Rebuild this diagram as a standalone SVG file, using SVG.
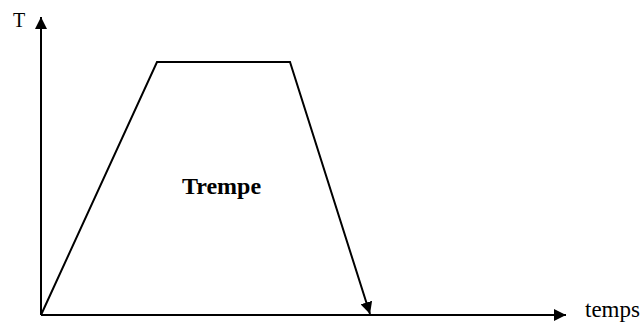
<svg xmlns="http://www.w3.org/2000/svg" width="642" height="324" viewBox="0 0 642 324">
<style>
.ln{stroke:#000;stroke-width:2;fill:none}
.t{font-family:"Liberation Serif","Times New Roman",serif;fill:#000}
</style>
<defs>
<marker id="ah" viewBox="0 0 12 12" refX="12" refY="6" markerWidth="12" markerHeight="12" markerUnits="userSpaceOnUse" orient="auto">
<path d="M0,0 L12,6 L0,12 Z" fill="#000"/>
</marker>
</defs>
<rect width="642" height="324" fill="#fff"/>
<g id="connectors">
<line class="ln" x1="41" y1="315" x2="41" y2="17" marker-end="url(#ah)"/>
<line class="ln" x1="41" y1="315" x2="566" y2="315" marker-end="url(#ah)"/>
<polyline class="ln" points="41,315 157,62 290,62 370,314" marker-end="url(#ah)"/>
</g>
<g id="label-T"><text class="t" x="13" y="27" font-size="20">T</text></g>
<g id="label-temps"><text class="t" x="585" y="317" font-size="23">temps</text></g>
<g id="label-trempe"><text class="t" x="182" y="194" font-size="24" font-weight="bold">Trempe</text></g>
</svg>
